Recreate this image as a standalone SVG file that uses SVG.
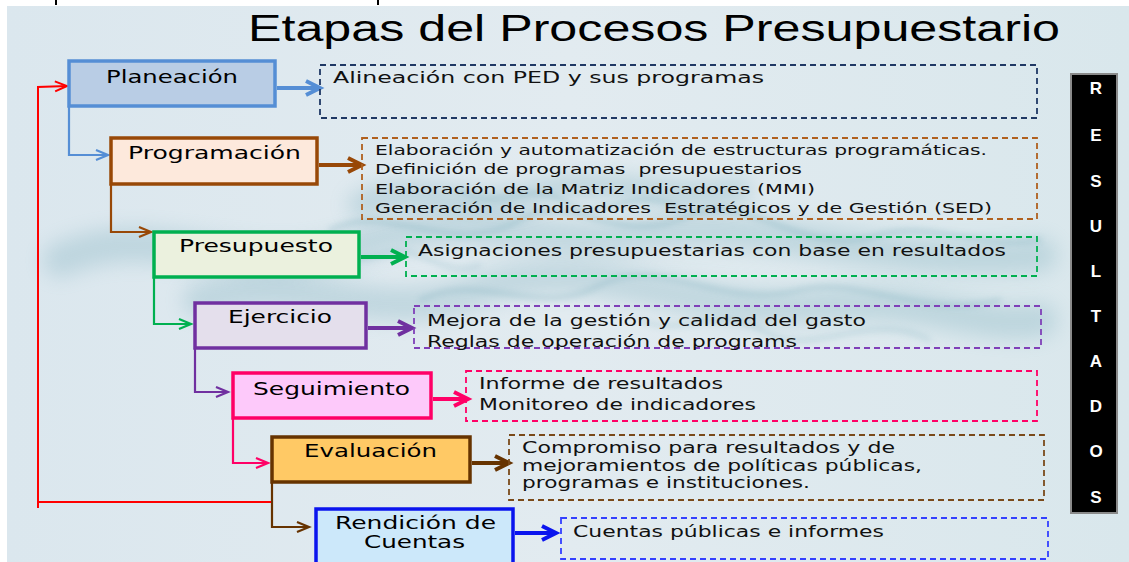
<svg xmlns="http://www.w3.org/2000/svg" width="1129" height="562" viewBox="0 0 1129 562">
  <style>
    .lbl { font-family: "DejaVu Sans", Verdana, sans-serif; font-size: 17px; fill: #000; text-anchor: start; }
    .dsc { font-family: "DejaVu Sans", Verdana, sans-serif; font-size: 15px; fill: #111; white-space: pre; }
    .dsc2 { font-family: "DejaVu Sans", Verdana, sans-serif; font-size: 13.5px; fill: #111; white-space: pre; }
    .title { font-family: "Liberation Sans", Arial, sans-serif; font-size: 36px; fill: #000; }
    .res { font-family: "Liberation Sans", Arial, sans-serif; font-size: 17px; font-weight: bold; fill: #fff; text-anchor: middle; }
    .box { stroke-width: 3.5; }
    .dash { fill: none; stroke-width: 1.8; stroke-dasharray: 6 4; }
    .el { fill: none; stroke-width: 2.2; }
    .thick { fill: none; stroke-width: 4; }
  </style>
  <defs>
    <linearGradient id="bg" x1="0" y1="0" x2="1" y2="0">
      <stop offset="0" stop-color="#dbe7ee"/>
      <stop offset="0.5" stop-color="#e2ebf0"/>
      <stop offset="1" stop-color="#d9e7ec"/>
    </linearGradient>
    <clipPath id="bgclip"><rect x="7" y="6" width="1122" height="556"/></clipPath>
    <filter id="blur" filterUnits="userSpaceOnUse" x="0" y="0" width="1129" height="562">
      <feGaussianBlur stdDeviation="10"/>
    </filter>
    <filter id="blur2" filterUnits="userSpaceOnUse" x="0" y="0" width="1129" height="562">
      <feGaussianBlur stdDeviation="3"/>
    </filter>
    <marker id="tBlue" markerUnits="userSpaceOnUse" markerWidth="16" markerHeight="14" refX="12" refY="5" orient="auto" overflow="visible"><path d="M0,0 L12,5 L0,10" fill="none" stroke="#558ed5" stroke-width="2.2"/></marker>
    <marker id="tBrown" markerUnits="userSpaceOnUse" markerWidth="16" markerHeight="14" refX="12" refY="5" orient="auto" overflow="visible"><path d="M0,0 L12,5 L0,10" fill="none" stroke="#984807" stroke-width="2.2"/></marker>
    <marker id="tGreen" markerUnits="userSpaceOnUse" markerWidth="16" markerHeight="14" refX="12" refY="5" orient="auto" overflow="visible"><path d="M0,0 L12,5 L0,10" fill="none" stroke="#00b050" stroke-width="2.2"/></marker>
    <marker id="tPurple" markerUnits="userSpaceOnUse" markerWidth="16" markerHeight="14" refX="12" refY="5" orient="auto" overflow="visible"><path d="M0,0 L12,5 L0,10" fill="none" stroke="#7030a0" stroke-width="2.2"/></marker>
    <marker id="tPink" markerUnits="userSpaceOnUse" markerWidth="16" markerHeight="14" refX="12" refY="5" orient="auto" overflow="visible"><path d="M0,0 L12,5 L0,10" fill="none" stroke="#ff0066" stroke-width="2.2"/></marker>
    <marker id="tDk" markerUnits="userSpaceOnUse" markerWidth="16" markerHeight="14" refX="12" refY="5" orient="auto" overflow="visible"><path d="M0,0 L12,5 L0,10" fill="none" stroke="#663300" stroke-width="2.2"/></marker>
    <marker id="tRed" markerUnits="userSpaceOnUse" markerWidth="16" markerHeight="14" refX="12" refY="5" orient="auto" overflow="visible"><path d="M0,0 L12,5 L0,10" fill="none" stroke="#ff0000" stroke-width="2"/></marker>
    <marker id="kBlue" markerUnits="userSpaceOnUse" markerWidth="18" markerHeight="18" refX="14" refY="7" orient="auto" overflow="visible"><path d="M0,0 L14,7 L0,14" fill="none" stroke="#558ed5" stroke-width="4"/></marker>
    <marker id="kBrown" markerUnits="userSpaceOnUse" markerWidth="18" markerHeight="18" refX="14" refY="7" orient="auto" overflow="visible"><path d="M0,0 L14,7 L0,14" fill="none" stroke="#984807" stroke-width="4"/></marker>
    <marker id="kGreen" markerUnits="userSpaceOnUse" markerWidth="18" markerHeight="18" refX="14" refY="7" orient="auto" overflow="visible"><path d="M0,0 L14,7 L0,14" fill="none" stroke="#00b050" stroke-width="4"/></marker>
    <marker id="kPurple" markerUnits="userSpaceOnUse" markerWidth="18" markerHeight="18" refX="14" refY="7" orient="auto" overflow="visible"><path d="M0,0 L14,7 L0,14" fill="none" stroke="#7030a0" stroke-width="4"/></marker>
    <marker id="kPink" markerUnits="userSpaceOnUse" markerWidth="18" markerHeight="18" refX="14" refY="7" orient="auto" overflow="visible"><path d="M0,0 L14,7 L0,14" fill="none" stroke="#ff0066" stroke-width="4"/></marker>
    <marker id="kDk" markerUnits="userSpaceOnUse" markerWidth="18" markerHeight="18" refX="14" refY="7" orient="auto" overflow="visible"><path d="M0,0 L14,7 L0,14" fill="none" stroke="#663300" stroke-width="4"/></marker>
    <marker id="kRBlue" markerUnits="userSpaceOnUse" markerWidth="18" markerHeight="18" refX="14" refY="7" orient="auto" overflow="visible"><path d="M0,0 L14,7 L0,14" fill="none" stroke="#0a14ee" stroke-width="4"/></marker>
  </defs>

  <!-- background -->
  <rect x="0" y="0" width="1129" height="562" fill="#ffffff"/>
  <rect x="7" y="6" width="1122" height="556" fill="url(#bg)"/>
  <g id="smoke" fill="none" stroke="#5f9cad" stroke-linecap="round" clip-path="url(#bgclip)">
    <path d="M60,260 C160,215 250,290 360,245 C460,205 540,250 640,235 C760,215 880,270 1040,255" stroke-width="34" opacity="0.24" filter="url(#blur)"/>
    <path d="M200,300 C300,270 380,330 480,290 C590,250 700,320 820,305 C920,295 980,330 1040,320" stroke-width="34" opacity="0.24" filter="url(#blur)"/>
    <path d="M360,205 C420,175 470,215 530,195 C600,170 660,205 740,190" stroke-width="24" opacity="0.28" filter="url(#blur)"/>
    <path d="M330,230 C390,200 450,260 520,220 C570,190 620,250 690,215 C750,190 800,260 880,235 C930,220 980,250 1040,240" stroke-width="3" opacity="0.4" filter="url(#blur2)"/>
    <path d="M420,300 C480,270 540,320 600,285 C660,255 720,310 800,290 C860,275 920,320 1000,300" stroke-width="3" opacity="0.36" filter="url(#blur2)"/>
    <path d="M460,190 C500,215 530,175 570,205 C600,225 640,180 680,210" stroke-width="2.5" opacity="0.4" filter="url(#blur2)"/>
    <path d="M640,320 C680,340 720,300 770,335 C820,355 870,310 930,340" stroke-width="2.5" opacity="0.34" filter="url(#blur2)"/>
    <path d="M260,250 C300,230 330,270 380,255 C420,240 440,280 480,265" stroke-width="2.5" opacity="0.34" filter="url(#blur2)"/>
  </g>
  <g id="ticks" stroke="#000" stroke-width="2">
    <line x1="56" y1="0" x2="56" y2="5"/>
    <line x1="378" y1="0" x2="378" y2="5"/>
  </g>

  <text id="title" class="title" x="248" y="41" textLength="812" lengthAdjust="spacingAndGlyphs">Etapas del Procesos Presupuestario</text>

  <!-- connectors -->
  <g id="connectors">
    <polyline class="el" stroke="#558ed5" points="69,106 69,155 108,155" marker-end="url(#tBlue)"/>
    <polyline class="el" stroke="#984807" points="111,184 111,232 151,232" marker-end="url(#tBrown)"/>
    <polyline class="el" stroke="#00b050" points="154,277 154,324 191,324" marker-end="url(#tGreen)"/>
    <polyline class="el" stroke="#7030a0" points="195,348 195,392 228,392" marker-end="url(#tPurple)"/>
    <polyline class="el" stroke="#ff0066" points="233,418 233,463 268,463" marker-end="url(#tPink)"/>
    <polyline class="el" stroke="#663300" points="272,482 272,527 309,527" marker-end="url(#tDk)"/>
    <polyline fill="none" stroke="#ff0000" stroke-width="2" points="38,508 38,87 67,86" marker-end="url(#tRed)"/>
    <line stroke="#ff0000" stroke-width="2" x1="38" y1="502" x2="271" y2="502"/>
    <line class="thick" stroke="#558ed5" x1="277" y1="88" x2="320" y2="88" marker-end="url(#kBlue)"/>
    <line class="thick" stroke="#984807" x1="319" y1="165" x2="362" y2="165" marker-end="url(#kBrown)"/>
    <line class="thick" stroke="#00b050" x1="361" y1="257" x2="405" y2="257" marker-end="url(#kGreen)"/>
    <line class="thick" stroke="#7030a0" x1="368" y1="328" x2="412" y2="328" marker-end="url(#kPurple)"/>
    <line class="thick" stroke="#ff0066" x1="433" y1="399" x2="468" y2="399" marker-end="url(#kPink)"/>
    <line class="thick" stroke="#663300" x1="472" y1="463" x2="509" y2="463" marker-end="url(#kDk)"/>
    <line class="thick" stroke="#0a14ee" x1="515" y1="533" x2="556" y2="533" marker-end="url(#kRBlue)"/>
  </g>

  <!-- stage nodes -->
  <g id="planeacion">
    <rect class="box" x="69" y="61" width="206" height="45" fill="#b9cde5" stroke="#558ed5"/>
    <text class="lbl" x="106" y="83" textLength="132" lengthAdjust="spacingAndGlyphs">Planeación</text>
  </g>
  <g id="programacion">
    <rect class="box" x="111" y="138" width="206" height="46" fill="#fde9dc" stroke="#984807"/>
    <text class="lbl" x="128" y="159" textLength="173" lengthAdjust="spacingAndGlyphs">Programación</text>
  </g>
  <g id="presupuesto">
    <rect class="box" x="154" y="232" width="205" height="45" fill="#ebf1de" stroke="#00b050"/>
    <text class="lbl" x="179" y="252" textLength="154" lengthAdjust="spacingAndGlyphs">Presupuesto</text>
  </g>
  <g id="ejercicio">
    <rect class="box" x="195" y="303" width="171" height="45" fill="#e4dfec" stroke="#7030a0"/>
    <text class="lbl" x="228" y="323" textLength="104" lengthAdjust="spacingAndGlyphs">Ejercicio</text>
  </g>
  <g id="seguimiento">
    <rect class="box" x="233" y="373" width="198" height="45" fill="#fdc9fa" stroke="#ff0066"/>
    <text class="lbl" x="253" y="395" textLength="157" lengthAdjust="spacingAndGlyphs">Seguimiento</text>
  </g>
  <g id="evaluacion">
    <rect class="box" x="272" y="437" width="198" height="45" fill="#ffc965" stroke="#663300"/>
    <text class="lbl" x="304" y="457" textLength="133" lengthAdjust="spacingAndGlyphs">Evaluación</text>
  </g>
  <g id="rendicion">
    <rect class="box" x="316" y="509" width="197" height="60" fill="#cce8fa" stroke="#0a14ee"/>
    <text class="lbl" x="335" y="529" textLength="161" lengthAdjust="spacingAndGlyphs">Rendición de</text>
    <text class="lbl" x="364" y="548" textLength="101" lengthAdjust="spacingAndGlyphs">Cuentas</text>
  </g>

  <!-- description nodes -->
  <g id="desc-planeacion">
    <rect class="dash" x="320" y="65" width="717" height="53" stroke="#1f3864"/>
    <text class="dsc" x="333" y="83" textLength="431" lengthAdjust="spacingAndGlyphs">Alineación con PED y sus programas</text>
  </g>
  <g id="desc-programacion">
    <rect class="dash" x="362" y="138" width="675" height="81" stroke="#b0601e"/>
    <text class="dsc2" x="375" y="155" textLength="612" lengthAdjust="spacingAndGlyphs">Elaboración y automatización de estructuras programáticas.</text>
    <text class="dsc2" x="375" y="174" textLength="427" lengthAdjust="spacingAndGlyphs" xml:space="preserve">Definición de programas  presupuestarios</text>
    <text class="dsc2" x="375" y="194" textLength="440" lengthAdjust="spacingAndGlyphs">Elaboración de la Matriz Indicadores (MMI)</text>
    <text class="dsc2" x="375" y="213" textLength="617" lengthAdjust="spacingAndGlyphs" xml:space="preserve">Generación de Indicadores  Estratégicos y de Gestión (SED)</text>
  </g>
  <g id="desc-presupuesto">
    <rect class="dash" x="406" y="237" width="631" height="39" stroke="#00b050"/>
    <text class="dsc" x="418" y="256" textLength="588" lengthAdjust="spacingAndGlyphs">Asignaciones presupuestarias con base en resultados</text>
  </g>
  <g id="desc-ejercicio">
    <rect class="dash" x="414" y="306" width="627" height="42" stroke="#7f40b8"/>
    <text class="dsc" x="427" y="326" textLength="439" lengthAdjust="spacingAndGlyphs">Mejora de la gestión y calidad del gasto</text>
    <text class="dsc" x="427" y="347" textLength="370" lengthAdjust="spacingAndGlyphs">Reglas de operación de programs</text>
  </g>
  <g id="desc-seguimiento">
    <rect class="dash" x="466" y="371" width="571" height="50" stroke="#ff0066"/>
    <text class="dsc" x="479" y="389" textLength="244" lengthAdjust="spacingAndGlyphs">Informe de resultados</text>
    <text class="dsc" x="479" y="410" textLength="277" lengthAdjust="spacingAndGlyphs">Monitoreo de indicadores</text>
  </g>
  <g id="desc-evaluacion">
    <rect class="dash" x="509" y="435" width="535" height="65" stroke="#7a4a1a"/>
    <text class="dsc" x="522" y="453" textLength="373" lengthAdjust="spacingAndGlyphs">Compromiso para resultados y de</text>
    <text class="dsc" x="522" y="471" textLength="400" lengthAdjust="spacingAndGlyphs">mejoramientos de políticas públicas,</text>
    <text class="dsc" x="522" y="488" textLength="288" lengthAdjust="spacingAndGlyphs">programas e instituciones.</text>
  </g>
  <g id="desc-rendicion">
    <rect class="dash" x="561" y="518" width="487" height="41" stroke="#3340ff"/>
    <text class="dsc" x="573" y="537" textLength="311" lengthAdjust="spacingAndGlyphs">Cuentas públicas e informes</text>
  </g>

  <!-- RESULTADOS bar -->
  <g id="resultados">
    <rect x="1071" y="74" width="46" height="439" fill="#000" stroke="#8a8a8a" stroke-width="2"/>
    <text class="res" x="1096" y="94">R</text>
    <text class="res" x="1096" y="141">E</text>
    <text class="res" x="1096" y="187">S</text>
    <text class="res" x="1096" y="232">U</text>
    <text class="res" x="1096" y="277">L</text>
    <text class="res" x="1096" y="322">T</text>
    <text class="res" x="1096" y="367">A</text>
    <text class="res" x="1096" y="412">D</text>
    <text class="res" x="1096" y="457">O</text>
    <text class="res" x="1096" y="503">S</text>
  </g>
</svg>
